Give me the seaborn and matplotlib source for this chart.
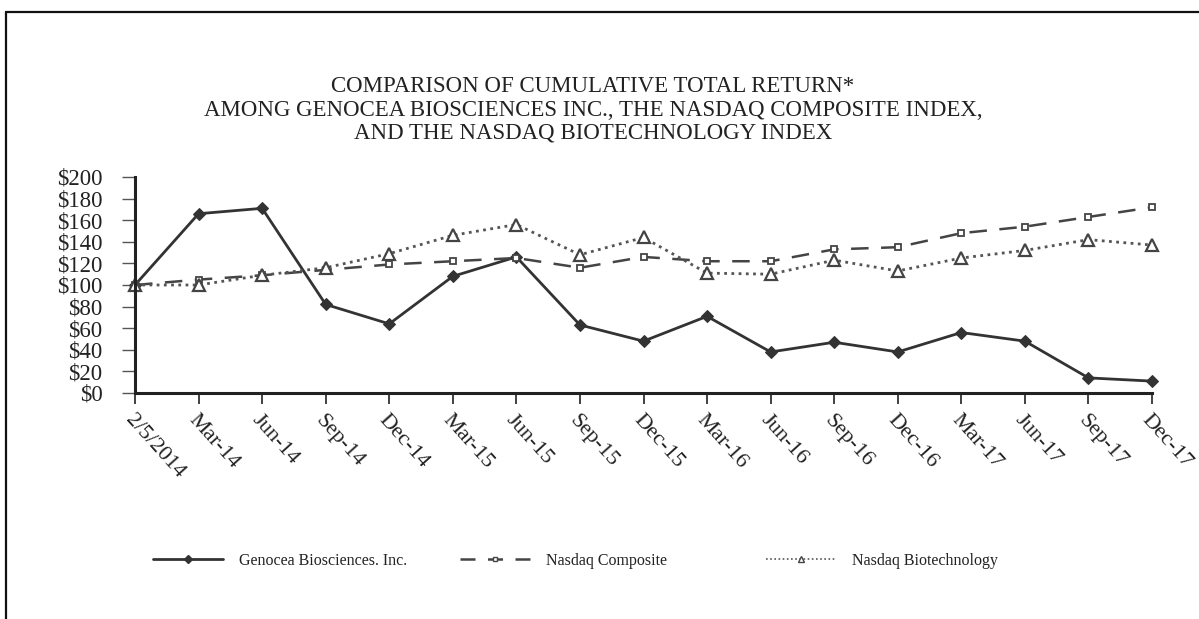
import matplotlib
matplotlib.use("Agg")
import matplotlib.pyplot as plt
import seaborn as sns
import pandas as pd
from matplotlib.lines import Line2D

periods = ["2/5/2014", "Mar-14", "Jun-14", "Sep-14", "Dec-14", "Mar-15", "Jun-15",
           "Sep-15", "Dec-15", "Mar-16", "Jun-16", "Sep-16", "Dec-16", "Mar-17",
           "Jun-17", "Sep-17", "Dec-17"]
genocea = [100, 166, 171, 82, 64, 108, 126, 63, 48, 71, 38, 47, 38, 56, 48, 14, 11]
nasdaq_composite = [100, 105, 109, 114, 119, 122, 125, 116, 126, 122, 122, 133, 135, 148, 154, 163, 172]
nasdaq_biotech = [100, 100, 109, 116, 129, 146, 156, 128, 144, 111, 110, 123, 113, 125, 132, 142, 137]
y_ticks = [0, 20, 40, 60, 80, 100, 120, 140, 160, 180, 200]
y_tick_labels = ["$" + str(v) for v in y_ticks]
series_names = ["Genocea Biosciences. Inc.", "Nasdaq Composite", "Nasdaq Biotechnology"]
title = ("COMPARISON OF CUMULATIVE TOTAL RETURN*\n"
         "AMONG GENOCEA BIOSCIENCES INC., THE NASDAQ COMPOSITE INDEX,\n"
         "AND THE NASDAQ BIOTECHNOLOGY INDEX")

sns.set_theme(style="white")
plt.rcParams["font.family"] = ["Liberation Serif", "DejaVu Serif"]
plt.rcParams["text.color"] = "#222222"

fig = plt.figure(figsize=(11.99, 6.19), dpi=100)
ax = fig.add_axes([135 / 1199, 1 - 393 / 619, (1152 - 135) / 1199, (393 - 177) / 619])

idx = list(range(len(periods)))
df = pd.DataFrame({"idx": idx, "g": genocea, "c": nasdaq_composite, "b": nasdaq_biotech})

line_col = "#333333"
sns.lineplot(data=df, x="idx", y="g", ax=ax, color=line_col, linewidth=2.0,
             marker="D", markersize=6.5, markerfacecolor=line_col,
             markeredgecolor=line_col, legend=False)
sns.lineplot(data=df, x="idx", y="c", ax=ax, color="#444444", linewidth=1.8,
             linestyle=(0, (7, 5)), marker="s", markersize=5,
             markerfacecolor="white", markeredgecolor="#444444",
             markeredgewidth=1.3, legend=False)
sns.lineplot(data=df, x="idx", y="b", ax=ax, color="#555555", linewidth=2.0,
             linestyle=(0, (1, 1.6)), marker="^", markersize=9,
             markerfacecolor="white", markeredgecolor="#444444",
             markeredgewidth=1.6, legend=False)
for ln in ax.lines:
    ln.set_clip_on(False)

ax.set_xlim(0, len(periods) - 1)
ax.set_ylim(0, 200)
ax.set_xticks(idx)
ax.set_xticklabels(periods, rotation=-48, ha="left", va="top",
                   rotation_mode="anchor", fontsize=16, color="#222222")
ax.set_yticks(y_ticks)
ax.set_yticklabels(y_tick_labels, fontsize=16.5, color="#222222")
ax.set_xlabel("")
ax.set_ylabel("")
ax.tick_params(axis="x", direction="out", length=8, width=1.3, color="#333333",
               bottom=True, pad=5)
ax.tick_params(axis="y", direction="out", length=9.5, width=1.0, color="#555555",
               left=True, pad=14)
for s in ["top", "right"]:
    ax.spines[s].set_visible(False)
for s in ["left", "bottom"]:
    ax.spines[s].set_linewidth(2.2)
    ax.spines[s].set_color("#222222")
ax.grid(False)

fig.text(593 / 1199, 1 - 110 / 619, title, ha="center", va="center",
         fontsize=16.5, linespacing=1.14, color="#222222")

# legends
h_g = Line2D([], [], color=line_col, linewidth=2.0, marker="D", markersize=4,
             markerfacecolor=line_col)
h_c = Line2D([], [], color="#444444", linewidth=1.8, linestyle=(0, (6, 5)),
             marker="s", markersize=3.5, markerfacecolor="white",
             markeredgecolor="#444444")
h_b = Line2D([], [], color="#555555", linewidth=1.2, linestyle=(0, (1, 1.5)),
             marker="^", markersize=5, markerfacecolor="white",
             markeredgecolor="#444444")
leg_kw = dict(frameon=False, fontsize=11.5, handlelength=4.4, handletextpad=1.0,
              loc="center left", borderaxespad=0, borderpad=0)
for h, name, x0 in [(h_g, series_names[0], 153), (h_c, series_names[1], 460),
                    (h_b, series_names[2], 766)]:
    fig.legend(handles=[h], labels=[name], bbox_to_anchor=(x0 / 1199, 1 - 561 / 619),
               **leg_kw)

# outer frame (left and top borders)
fig.add_artist(Line2D([6 / 1199, 6 / 1199], [0, 1 - 12 / 619],
                      transform=fig.transFigure, color="#111111", linewidth=1.6))
fig.add_artist(Line2D([6 / 1199, 1], [1 - 12 / 619, 1 - 12 / 619],
                      transform=fig.transFigure, color="#111111", linewidth=1.6))

fig.savefig("out.png", dpi=100, facecolor="white")
